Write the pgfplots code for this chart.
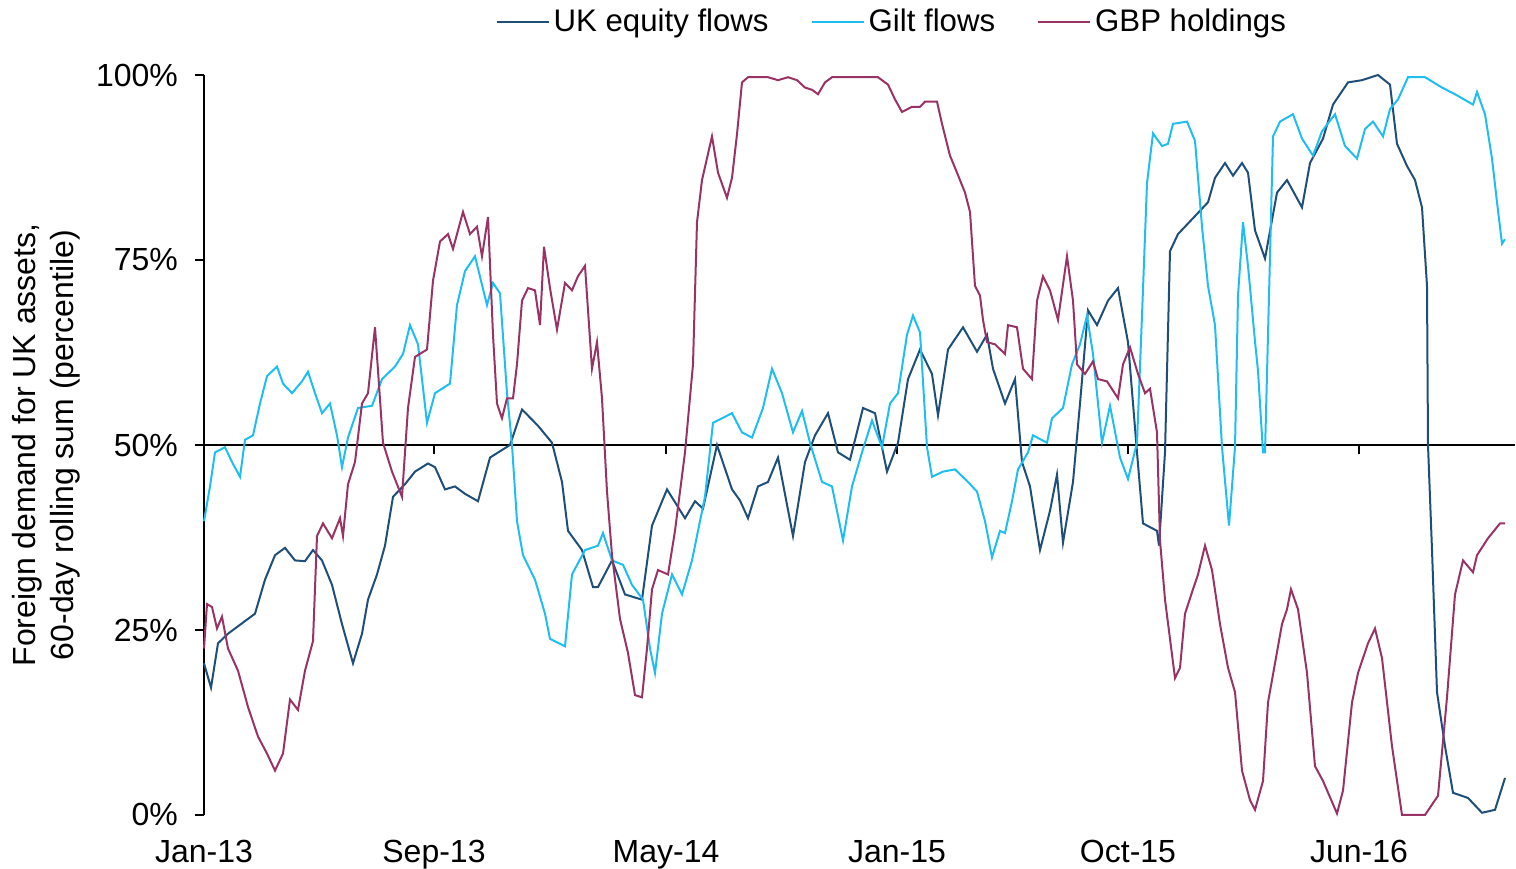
\documentclass[border=0pt]{standalone}
\usepackage{fontspec}
\setmainfont{Liberation Sans}
\usepackage{pgfplots}
\usepackage{pgfplotstable}
\pgfplotsset{compat=1.18}
\definecolor{eqc}{HTML}{1F4E79}
\definecolor{gic}{HTML}{1EBEF0}
\definecolor{gbc}{HTML}{993366}

% x = position along the time axis (Jan-13 = 204 ... ), y = percentile (%)
\pgfplotstableread{
x y
204 20.5
211 17.2
218 23.2
228 24.5
245 26.2
255 27.2
265 31.8
275 35.1
285 36.1
295 34.4
305 34.3
313 35.8
322 34.4
332 31.1
342 25.8
353 20.5
362 24.5
368 29.1
377 32.5
385 36.4
393 43.0
405 44.7
415 46.4
428 47.5
435 47.0
445 44.0
455 44.4
465 43.4
478 42.4
490 48.3
510 50.0
522 54.8
538 52.6
552 50.3
562 45.0
568 38.4
582 35.8
593 30.8
598 30.8
612 34.4
625 29.8
642 29.1
652 39.1
667 44.0
685 40.1
695 42.4
703 41.4
717 50.0
732 44.0
740 42.5
748 40.1
758 44.4
768 45.0
778 48.3
793 37.7
805 47.7
815 51.3
828 54.3
838 49.0
850 48.0
863 55.0
875 54.3
887 46.4
898 50.3
908 58.9
920 62.9
932 59.6
938 54.0
948 62.9
963 65.9
977 62.6
987 64.9
993 60.3
1005 55.6
1015 58.9
1022 47.7
1030 44.4
1040 35.8
1050 41.1
1057 46.0
1063 36.8
1073 45.0
1080 55.6
1088 68.2
1097 66.2
1108 69.5
1118 71.2
1128 63.9
1137 49.0
1143 39.4
1157 38.4
1159 36.4
1165 49.0
1170 76.2
1178 78.5
1192 80.5
1208 82.8
1215 86.1
1225 88.1
1233 86.4
1242 88.1
1248 86.8
1255 79.0
1265 75.2
1277 84.1
1287 85.8
1302 82.1
1310 88.1
1323 91.4
1333 96.0
1348 99.0
1362 99.3
1378 100
1390 98.7
1397 90.7
1407 87.7
1415 85.8
1422 82.1
1427 71.5
1428 50.0
1432 35.8
1437 16.6
1445 9.3
1453 3.0
1468 2.3
1482 0.3
1495 0.7
1505 5.0
}\equity

\pgfplotstableread{
x y
204 39.7
210 44.4
215 49.0
225 49.7
232 47.7
240 45.7
245 50.7
253 51.3
260 55.6
267 59.3
277 60.6
283 58.3
292 57.0
302 58.6
308 59.9
315 57.0
322 54.3
330 55.6
337 51.3
342 47.0
348 51.0
358 55.0
372 55.3
382 58.9
395 60.6
403 62.3
410 66.2
418 63.6
427 53.0
435 57.0
450 58.3
457 68.9
465 73.5
475 75.5
487 68.9
493 71.9
500 70.5
507 57.0
512 50.0
517 39.7
523 35.1
535 31.8
545 27.2
550 23.8
565 22.8
572 32.5
585 35.8
598 36.4
603 38.1
612 34.4
623 33.8
632 31.1
643 29.1
650 22.5
655 19.2
662 27.2
672 32.5
682 29.8
692 34.4
698 38.4
705 43.0
713 53.0
722 53.6
732 54.3
742 51.7
752 51.0
763 55.0
772 60.3
782 57.0
793 51.7
802 54.6
810 50.3
822 45.0
832 44.4
843 37.1
852 44.4
862 49.0
872 53.3
882 49.7
890 55.6
898 57.0
907 64.9
913 67.5
920 65.2
927 49.7
932 45.7
943 46.4
955 46.7
968 45.0
977 43.7
985 39.7
992 34.8
1000 38.4
1005 38.1
1012 42.4
1018 46.7
1028 49.0
1033 51.3
1047 50.3
1052 53.6
1063 55.0
1072 60.9
1080 63.6
1087 67.5
1093 62.3
1102 50.3
1110 55.3
1120 48.3
1128 45.4
1137 50.3
1142 67.5
1147 85.4
1153 92.1
1162 90.4
1168 90.7
1173 93.4
1187 93.7
1195 91.1
1202 79.5
1208 71.5
1215 66.2
1222 49.7
1229 39.1
1235 49.7
1238 70.2
1243 80.1
1248 74.2
1255 64.0
1258 60.0
1263 49.0
1265 49.0
1270 75.5
1273 91.7
1280 93.7
1293 94.7
1302 91.4
1313 89.1
1322 92.4
1335 94.7
1345 90.4
1357 88.7
1365 92.7
1373 93.7
1383 91.7
1390 95.4
1398 96.7
1408 99.7
1425 99.7
1442 98.3
1455 97.4
1473 96.0
1477 97.7
1485 94.7
1492 88.7
1497 82.8
1502 77.2
1505 77.8
}\gilt

\pgfplotstableread{
x y
204 22.5
207 28.5
212 28.1
217 25.2
222 26.8
228 22.5
238 19.5
248 14.6
258 10.6
267 8.3
275 6.0
283 8.3
290 15.6
298 14.2
305 19.5
313 23.5
317 37.7
323 39.4
332 37.4
340 40.1
343 37.7
348 44.7
355 47.7
362 55.6
368 57.0
375 65.9
383 50.3
392 46.4
402 43.0
408 55.0
415 61.9
427 62.9
433 72.2
440 77.5
448 78.5
453 76.5
463 81.5
470 78.5
477 79.5
482 75.5
488 80.8
493 64.9
497 55.6
502 53.6
507 56.3
513 56.3
517 60.9
522 69.5
528 71.2
535 70.9
540 66.2
544 76.8
550 71.2
557 65.6
565 71.9
572 70.9
578 72.8
585 74.2
592 60.3
597 63.9
602 56.3
607 43.7
612 35.1
620 26.5
628 21.9
635 16.2
642 15.9
647 22.5
652 30.5
658 33.1
668 32.5
675 38.4
685 49.0
693 60.9
697 80.1
702 85.8
712 91.7
718 86.8
727 83.4
732 86.1
737 92.0
742 99.0
748 99.7
768 99.7
778 99.3
788 99.7
797 99.3
805 98.3
812 98.0
818 97.4
825 99.0
832 99.7
878 99.7
888 98.7
895 96.7
902 95.0
912 95.7
920 95.7
925 96.4
937 96.4
942 93.4
950 89.1
957 86.8
965 84.1
970 81.5
975 71.5
980 70.2
983 66.9
987 63.9
995 63.6
1005 62.3
1008 66.2
1017 65.9
1023 60.3
1032 58.9
1037 69.5
1043 72.8
1050 70.9
1058 66.9
1067 75.5
1073 69.5
1077 60.9
1085 59.6
1093 61.3
1098 58.9
1107 58.6
1118 56.3
1123 60.9
1130 63.2
1138 59.6
1145 57.0
1150 57.6
1157 51.7
1160 37.1
1165 29.1
1170 23.8
1175 18.5
1180 19.9
1185 27.2
1193 30.5
1198 32.5
1205 36.4
1212 33.1
1220 25.8
1228 19.9
1235 16.6
1242 6.0
1250 2.0
1255 0.7
1263 4.6
1268 15.2
1275 20.5
1282 25.8
1287 27.8
1291 30.5
1298 27.8
1307 19.2
1315 6.6
1323 4.6
1337 0.2
1343 3.3
1352 15.2
1358 19.2
1368 23.2
1375 25.2
1382 21.2
1392 9.3
1402 0.0
1425 0.0
1438 2.6
1447 15.9
1455 29.8
1463 34.4
1473 32.8
1477 35.1
1488 37.4
1500 39.4
1505 39.4
}\gbp

\begin{document}
\begin{tikzpicture}[font=\fontsize{16}{19}\selectfont]
\begin{axis}[
  scale only axis, width=655.5pt, height=370pt,
  xmin=204, xmax=1515, ymin=-50, ymax=50,
  enlargelimits=false,
  axis x line=middle, axis y line=left,
  axis line style={-, black},
  x axis line style={line width=0.8pt},
  y axis line style={line width=1pt},
  hide obscured x ticks=false,
  xtick={204,434,666,897,1128,1359},
  xticklabels={Jan-13,Sep-13,May-14,Jan-15,Oct-15,Jun-16},
  ytick={-50,-25,0,25,50},
  yticklabels={0\%,25\%,50\%,75\%,100\%},
  tick align=outside, major tick length=4.5pt,
  tick style={black, line width=0.8pt},
  xticklabel style={anchor=north, yshift=-189.5pt},
  yticklabel style={xshift=-5pt},
  /pgf/number format/assume math mode=true,
  ylabel={Foreign demand for UK assets,\\60-day rolling sum (percentile)},
  ylabel style={at={(rel axis cs:0,0.5)}, yshift=79pt, anchor=center, align=center},
  legend columns=3,
  legend style={draw=none, fill=none, at={(0.5254,1.0716)}, anchor=center,
    font=\fontsize{15.6}{18}\selectfont,
    /tikz/every even column/.append style={column sep=19pt},
    inner sep=0pt},
  legend image code/.code={\draw[#1] (0pt,0pt) -- (26pt,0pt);},
  clip=false,
]
\addplot[eqc, line width=1pt] table[x=x, y expr=\thisrow{y}-50] {\equity};
\addlegendentry{UK equity flows}
\addplot[gic, line width=1pt] table[x=x, y expr=\thisrow{y}-50] {\gilt};
\addlegendentry{Gilt flows}
\addplot[gbc, line width=1pt] table[x=x, y expr=\thisrow{y}-50] {\gbp};
\addlegendentry{GBP holdings}
\end{axis}
\pgfresetboundingbox
\path ([shift={(-102pt,-27pt)}]current axis.south west) rectangle ([shift={(0.5pt,37.5pt)}]current axis.north east);
\end{tikzpicture}
\end{document}
